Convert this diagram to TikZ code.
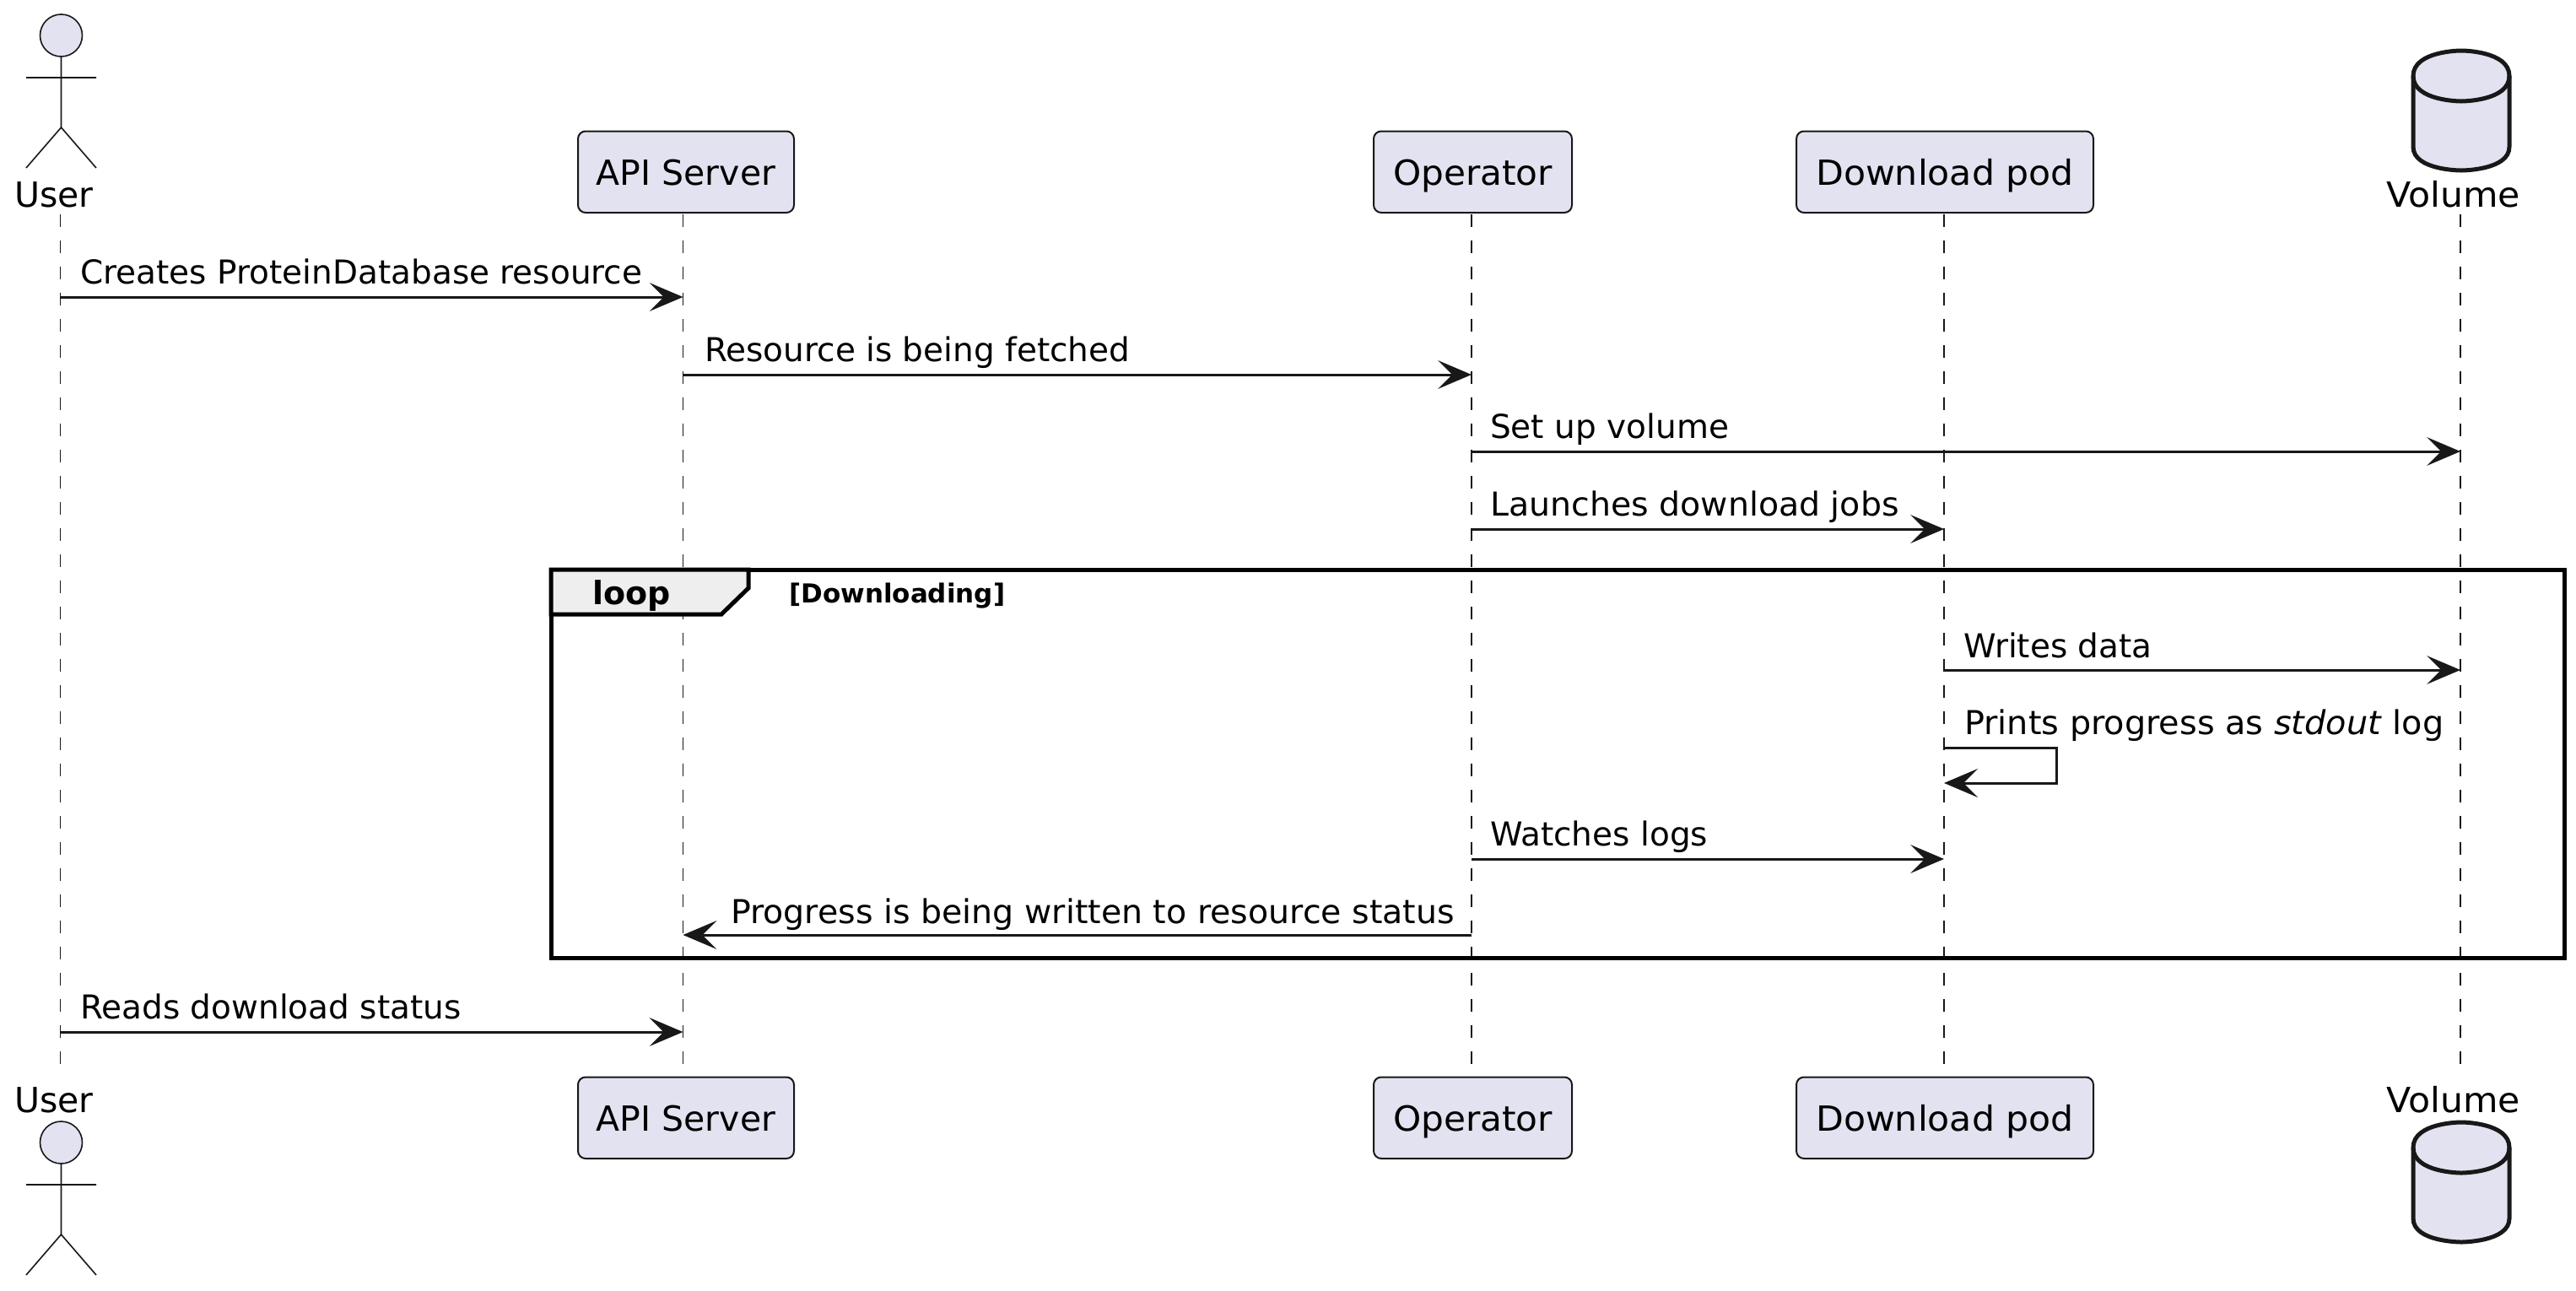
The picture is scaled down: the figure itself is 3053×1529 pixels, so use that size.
\documentclass[tikz,border=0pt]{standalone}
\usepackage{fontspec}
\setmainfont{DejaVu Sans}
\usetikzlibrary{arrows.meta}
\definecolor{partfill}{HTML}{E2E2F0}
\definecolor{ink}{HTML}{181818}
\definecolor{tabfill}{HTML}{EEEEEE}
\newcommand{\wide}[1]{\addfontfeature{FakeStretch=#1}}
\tikzset{
  x=1pt,y=-1pt,
  msgtext/.style={anchor=base west,inner sep=0pt,font=\fontsize{39}{47}\selectfont},
  parttext/.style={anchor=base,inner sep=0pt,font=\fontsize{41}{49}\selectfont},
  partbox/.style={anchor=base,draw=ink,fill=partfill,line width=2pt,rounded corners=9pt,inner sep=0pt,
    text height=63.5pt,text depth=33pt,font=\fontsize{41}{49}\selectfont},
  lifeline/.style={draw=ink,line width=1.5pt,dash pattern=on 15pt off 16pt},
  msgline/.style={draw=ink,line width=3pt,-{Stealth[length=40pt,width=34pt,inset=17pt,line width=0pt,fill=ink]}},
  actorline/.style={draw=ink,line width=1.6pt},
  cyl/.style={draw=ink,line width=5pt,fill=partfill},
}
\newcommand{\actorfig}[1]{%
  \begin{scope}[shift={(72.5,#1)}]
    \draw[actorline,fill=partfill] (0,25) circle[radius=25pt];
    \draw[actorline] (0,50) -- (0,134) (-41.5,75) -- (41.5,75) (-41.5,182) -- (0,134) -- (41.5,182);
  \end{scope}}
\newcommand{\cylfig}[1]{%
  \begin{scope}[shift={(2917,#1)}]
    \draw[cyl] (-57,30) .. controls (-57,0) and (0,0) .. (0,0) .. controls (0,0) and (57,0) .. (57,30)
      -- (57,114) .. controls (57,142) and (0,142) .. (0,142) .. controls (0,142) and (-57,142) .. (-57,114) -- cycle;
    \draw[draw=ink,line width=5pt] (-57,30) .. controls (-57,60) and (0,60) .. (0,60) .. controls (0,60) and (57,60) .. (57,30);
  \end{scope}}
\begin{document}
\begin{tikzpicture}
\useasboundingbox (0,0) rectangle (3053,1529);
% lifeline ends
\foreach \n/\x in {u/71.5,a/809.5,o/1744,d/2304,v/2916}{
  \coordinate (\n top) at (\x,254);
  \coordinate (\n bot) at (\x,1269);
}
\draw[lifeline] (utop) -- (ubot);
\draw[lifeline] (atop) -- (abot);
\draw[lifeline] (otop) -- (obot);
\draw[lifeline] (dtop) -- (dbot);
\draw[lifeline] (vtop) -- (vbot);
% participants top
\actorfig{17}
\node[parttext] (user1) at (64,245) {User};
\node[partbox,minimum width=256pt] (api1) at (813,219) {API Server};
\node[partbox,minimum width=235pt] (op1) at (1745.5,219) {\wide{1.03}Operator};
\node[partbox,minimum width=352pt] (dl1) at (2305,219) {\wide{1.04}Download pod};
\cylfig{60}
\node[parttext] (vol1) at (2907.5,245) {\wide{1.04}Volume};
% participants bottom
\actorfig{1329}
\node[parttext] (user2) at (64,1318) {User};
\node[partbox,minimum width=256pt] (api2) at (813,1340) {API Server};
\node[partbox,minimum width=235pt] (op2) at (1745.5,1340) {\wide{1.03}Operator};
\node[partbox,minimum width=352pt] (dl2) at (2305,1340) {\wide{1.04}Download pod};
\cylfig{1330}
\node[parttext] (vol2) at (2907.5,1318) {\wide{1.04}Volume};
% loop frame
\draw[black,line width=5pt] (653,675) rectangle (3039,1135);
\draw[black,line width=5pt,fill=tabfill,line join=miter]
  (653,675) -- (887,675) -- (887,697) -- (855,728) -- (653,728) -- cycle;
\node[anchor=base west,inner sep=0pt,font=\fontsize{38}{46}\selectfont\bfseries] (looplabel) at (702,716) {loop};
\node[anchor=base west,inner sep=0pt,font=\fontsize{31}{37}\selectfont\bfseries] (loopcond) at (935,714) {[Downloading]};
% messages
\foreach \n/\xa/\xb/\y in {m1/71.5/809.5/352,m2/809.5/1744/444,m3/1744/2916/535,m4/1744/2304/627,
  m5/2304/2916/794,m7/1744/2304/1018,m8/1744/809.5/1108,m9/71.5/809.5/1223}{
  \coordinate (\n a) at (\xa,\y);
  \coordinate (\n b) at (\xb,\y);
}
\draw[msgline] (m1a) -- (m1b);
\draw[msgline] (m2a) -- (m2b);
\draw[msgline] (m3a) -- (m3b);
\draw[msgline] (m4a) -- (m4b);
\draw[msgline] (m5a) -- (m5b);
\coordinate (m6a) at (2304,886);
\coordinate (m6b) at (2304,928);
\draw[msgline] (m6a) -- (2437,886) -- (2437,928) -- (m6b);
\draw[msgline] (m7a) -- (m7b);
\draw[msgline] (m8a) -- (m8b);
\draw[msgline] (m9a) -- (m9b);
% labels
\node[msgtext] (t1) at (95,336) {Creates ProteinDatabase resource};
\node[msgtext] (t2) at (835,428) {Resource is being fetched};
\node[msgtext] (t3) at (1766,519) {Set up volume};
\node[msgtext] (t4) at (1766,611) {\wide{1.012}Launches download jobs};
\node[msgtext] (t5) at (2327,779) {Writes data};
\node[msgtext] (t6) at (2328,870) {\wide{1.02}Prints progress as \textit{stdout} log};
\node[msgtext] (t7) at (1766,1002) {Watches logs};
\node[msgtext] (t8) at (866,1094) {\wide{1.013}Progress is being written to resource status};
\node[msgtext] (t9) at (95,1207) {Reads download status};
\end{tikzpicture}
\end{document}
